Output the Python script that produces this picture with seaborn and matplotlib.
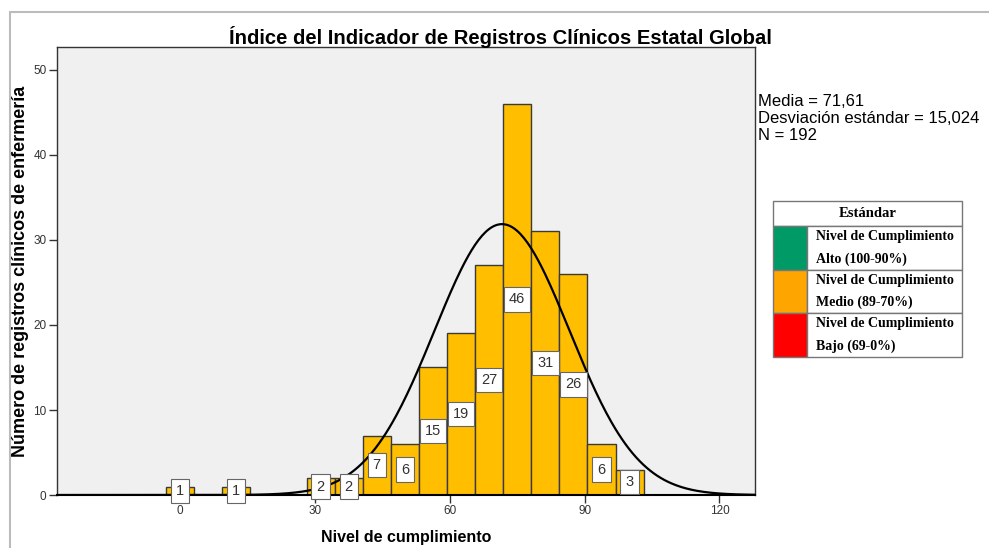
import numpy as np
import matplotlib.pyplot as plt
import seaborn as sns
from matplotlib.patches import Rectangle
from matplotlib.lines import Line2D

# histogram bins (centre of each bar) and counts
bin_centres = [0, 6.25, 12.5, 18.75, 25, 31.25, 37.5, 43.75, 50, 56.25,
               62.5, 68.75, 75, 81.25, 87.5, 93.75, 100]
counts = [1, 0, 1, 0, 0, 2, 2, 7, 6, 15, 19, 27, 46, 31, 26, 6, 3]
bin_width = 6.25

media = 71.61
desv = 15.024
n_total = 192

legend_colors = ['#009A66', '#FFA500', '#FF0000']
legend_labels = ['Nivel de Cumplimiento\nAlto (100-90%)',
                 'Nivel de Cumplimiento\nMedio (89-70%)',
                 'Nivel de Cumplimiento\nBajo (69-0%)']

sns.set_style('white')
plt.rcParams['font.family'] = ['Liberation Sans', 'DejaVu Sans']
plt.rcParams['text.color'] = 'black'
plt.rcParams['axes.labelcolor'] = 'black'

fig = plt.figure(figsize=(9.89, 5.48), dpi=100)
ax = fig.add_axes([0.0576, 0.0967, 0.7058, 0.8175])
ax.set_facecolor('#F0F0F0')

sns.histplot(x=bin_centres, weights=counts, binwidth=bin_width,
             binrange=(bin_centres[0] - bin_width / 2, bin_centres[-1] + bin_width / 2),
             color='#FFBE00', edgecolor='#3a3a3a', linewidth=1, alpha=1, ax=ax)

for c, n in zip(bin_centres, counts):
    if n > 0:
        ax.text(c, n / 2, str(n), ha='center', va='center', fontsize=10.5, color='#333333',
                family=['Liberation Sans Narrow', 'Liberation Sans'],
                bbox=dict(boxstyle='square,pad=0.35', facecolor='white', edgecolor='#666666', linewidth=0.8))

# normal curve
xs = np.linspace(-27.4, 127.9, 400)
ys = n_total * bin_width * np.exp(-0.5 * ((xs - media) / desv) ** 2) / (desv * np.sqrt(2 * np.pi))
sns.lineplot(x=xs, y=ys, color='black', linewidth=1.6, ax=ax)

ax.set_xlim(-27.4, 127.9)
ax.set_ylim(0, 52.7)
ax.set_xticks([0, 30, 60, 90, 120])
ax.set_yticks([0, 10, 20, 30, 40, 50])
ax.tick_params(axis='both', direction='out', length=6, width=1, labelsize=8.5,
               colors='#333333', bottom=True, left=True, pad=1.5)
for side in ['top', 'right', 'left']:
    ax.spines[side].set_color('#333333')
    ax.spines[side].set_linewidth(1)
ax.spines['bottom'].set_color('black')
ax.spines['bottom'].set_linewidth(1.5)

ax.set_xlabel('Nivel de cumplimiento', fontsize=11.5, fontweight='bold', labelpad=9)
ax.set_ylabel('Número de registros clínicos de enfermería', fontsize=13, fontweight='bold', labelpad=3)
fig.text(0.506, 0.933, 'Índice del Indicador de Registros Clínicos Estatal Global',
         ha='center', va='center', fontsize=14.6, fontweight='bold')

fig.text(0.766, 0.784, 'Media = %s\nDesviación estándar = %s\nN = %d' %
         (str(media).replace('.', ','), '15,024', n_total),
         ha='left', va='center', fontsize=12, linespacing=1.15)

# legend table
tx0, tx1, tcol = 773, 962, 807
rows_y = [201, 226, 270, 313, 357]
H = 548
def fx(px):
    return px / 989
def fy(py):
    return 1 - py / H

fig.add_artist(Rectangle((fx(tx0), fy(rows_y[1])), fx(tx1) - fx(tx0), fy(rows_y[0]) - fy(rows_y[1]),
                         transform=fig.transFigure, facecolor='white', edgecolor='#777777', lw=1))
fig.text(fx((tx0 + tx1) / 2), fy((rows_y[0] + rows_y[1]) / 2), 'Estándar', ha='center', va='center',
         fontsize=10.5, fontweight='bold', family='Liberation Serif')
for i, (col, lab) in enumerate(zip(legend_colors, legend_labels)):
    top, bot = rows_y[i + 1], rows_y[i + 2]
    fig.add_artist(Rectangle((fx(tx0), fy(bot)), fx(tcol) - fx(tx0), fy(top) - fy(bot),
                             transform=fig.transFigure, facecolor=col, edgecolor='#777777', lw=1))
    fig.add_artist(Rectangle((fx(tcol), fy(bot)), fx(tx1) - fx(tcol), fy(top) - fy(bot),
                             transform=fig.transFigure, facecolor='white', edgecolor='#777777', lw=1))
    fig.text(fx(tcol + 9), fy((top + bot) / 2), lab, ha='left', va='center', fontsize=10,
             fontweight='bold', family='Liberation Serif', linespacing=1.9)

# outer frame of the original figure
fig.add_artist(Line2D([fx(10), 1], [fy(12), fy(12)], color='#BBBBBB', lw=1.5, transform=fig.transFigure))
fig.add_artist(Line2D([fx(10), fx(10)], [0, fy(12)], color='#BBBBBB', lw=1.5, transform=fig.transFigure))

fig.savefig('out.png', dpi=100)
